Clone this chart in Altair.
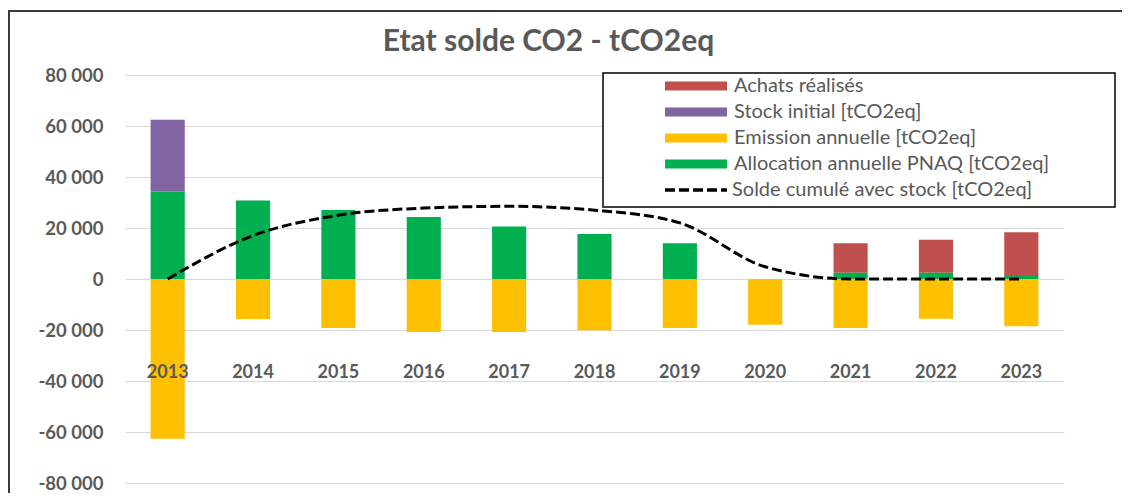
import altair as alt
import pandas as pd

years = ["2013", "2014", "2015", "2016", "2017", "2018", "2019", "2020", "2021", "2022", "2023"]
achats = [0, 0, 0, 0, 0, 0, 0, 0, 11500, 12900, 16700]
stock = [28200, 0, 0, 0, 0, 0, 0, 0, 0, 0, 0]
emission = [-62600, -15700, -19200, -20800, -20800, -20100, -19200, -17900, -19200, -15600, -18500]
allocation = [34300, 30800, 27100, 24300, 20600, 17600, 14000, 0, 2500, 2500, 1600]
solde = [0, 17000, 25000, 27800, 28500, 27000, 22000, 4800, 0, 0, 0]

series_names = ["Achats réalisés", "Stock initial [tCO2eq]", "Emission annuelle [tCO2eq]",
                "Allocation annuelle PNAQ [tCO2eq]"]
series_colors = ["#C0504D", "#8064A2", "#FFC000", "#00B050"]
stack_order = [2, 1, 3, 0]
line_name = "Solde cumulé avec stock [tCO2eq]"

rows = []
for vals, name, o in zip([achats, stock, emission, allocation], series_names, stack_order):
    for y, v in zip(years, vals):
        rows.append({"annee": y, "serie": name, "valeur": v, "ordre": o})
bars_df = pd.DataFrame(rows)
line_df = pd.DataFrame({"annee": years, "valeur": solde, "serie": [line_name] * len(years)})

FONT = "Lato"
GREY = "#595959"

x_enc = alt.X("annee:N", sort=years,
              scale=alt.Scale(paddingInner=0.6, paddingOuter=0.3),
              axis=alt.Axis(title=None, orient="bottom", offset=-111, labelAngle=0,
                            labelBaseline="middle", labelPadding=0, ticks=False, domain=False,
                            grid=False, labelFont=FONT, labelFontSize=18, labelFontWeight="bold",
                            labelColor=GREY, zindex=2))
y_scale = alt.Scale(domain=[-80000, 80000], nice=False)
y_axis = alt.Axis(title=None, values=list(range(-80000, 80001, 20000)), ticks=False, domain=False,
                  grid=True, gridColor="#d9d9d9", gridWidth=1.2, labelPadding=22,
                  labelFont=FONT, labelFontSize=18.5, labelFontWeight="bold", labelColor=GREY,
                  labelExpr="(datum.value < 0 ? '-' : '') + replace(format(abs(datum.value), ','), ',', ' ')")

bar_symbol = "M-4,-0.58L4,-0.58L4,0.58L-4,0.58Z"
line_symbol = "M-4,0L4,0"

frame = alt.Chart(pd.DataFrame({"k": [0]})).mark_rect(
    fill="transparent", stroke="#3a3a3a", strokeWidth=2
).encode(x=alt.value(-116), x2=alt.value(1100), y=alt.value(-64), y2=alt.value(500))

bars = alt.Chart(bars_df).mark_bar().encode(
    x=x_enc,
    y=alt.Y("valeur:Q", stack="zero", scale=y_scale, axis=y_axis),
    color=alt.Color("serie:N", scale=alt.Scale(domain=series_names, range=series_colors),
                    legend=alt.Legend(title=None, orient="none", legendX=561, legendY=1,
                                      symbolType=bar_symbol, symbolSize=240, symbolStrokeWidth=0,
                                      symbolOpacity=1, labelOffset=28, rowPadding=6, padding=0,
                                      labelFont=FONT, labelFontSize=20, labelColor=GREY,
                                      labelLimit=400)),
    order=alt.Order("ordre:Q"),
)

line = alt.Chart(line_df).mark_line(color="black", strokeWidth=3, interpolate="monotone").encode(
    x=alt.X("annee:N", sort=years),
    y=alt.Y("valeur:Q"),
    strokeDash=alt.StrokeDash("serie:N", scale=alt.Scale(domain=[line_name], range=[[10, 4]]),
                              legend=alt.Legend(title=None, orient="none", legendX=561, legendY=105,
                                                symbolType=line_symbol, symbolSize=240,
                                                symbolStrokeWidth=3.5, symbolStrokeColor="black",
                                                labelOffset=26, padding=0,
                                                labelFont=FONT, labelFontSize=20, labelColor=GREY,
                                                labelLimit=400)),
)

legend_box = alt.Chart(pd.DataFrame({"k": [0]})).mark_rect(
    fill="white", stroke="black", strokeWidth=1.5
).encode(x=alt.value(478), x2=alt.value(990), y=alt.value(-2), y2=alt.value(132))

chart = alt.layer(frame, bars, line, legend_box).resolve_legend(
    color="independent", strokeDash="independent"
).properties(
    width=939, height=408,
    autosize=alt.AutoSizeParams(type="none"),
    padding={"left": 117, "top": 67, "right": 58, "bottom": 10},
    title=alt.TitleParams("Etat solde CO2 - tCO2eq", anchor="middle", frame="group", dx=-46,
                          offset=0, dy=71, baseline="alphabetic", font=FONT, fontSize=30,
                          fontWeight="bold", color=GREY),
).configure_view(stroke=None)

chart.save("out.html", embed_options={"renderer": "svg", "actions": False})
